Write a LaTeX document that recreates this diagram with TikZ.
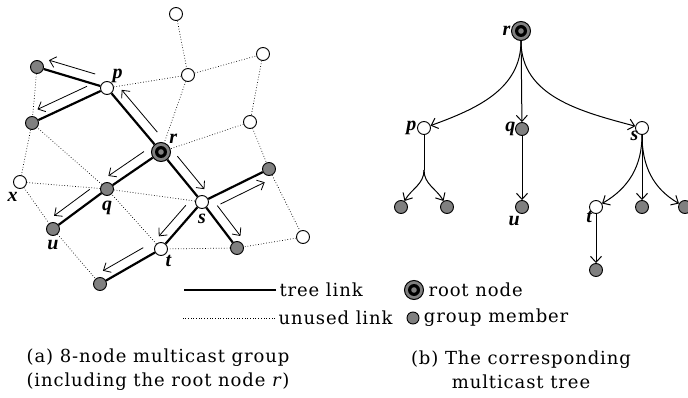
\documentclass[tikz,border=0pt]{standalone}
\usepackage{fontspec}
\setmainfont{DejaVu Serif}[LetterSpace=5]
\newfontfamily\labelfont{Liberation Serif}
\usetikzlibrary{arrows.meta,calc,positioning}
\definecolor{memberGray}{RGB}{128,128,128}

\begin{document}
\begin{tikzpicture}[
        x=1pt, y=1pt,
        plain/.style={circle, draw, fill=white, line width=0.9pt, minimum size=13pt, inner sep=0pt},
        member/.style={plain, fill=memberGray},
        root/.style={circle, draw, line width=1pt, fill=memberGray, minimum size=19pt, inner sep=0pt,
            path picture={\fill[black] (path picture bounding box.center) circle (6pt);
                          \fill[memberGray] (path picture bounding box.center) circle (2.8pt);}},
        tree/.style={line width=2.2pt},
        unused/.style={dotted, line width=0.7pt},
        flow/.style={-{Straight Barb[length=6pt,width=11pt]}, line width=0.8pt},
        down/.style={-{Straight Barb[length=6pt,width=11pt]}, line width=1pt},
        lbl/.style={font=\fontsize{20}{20}\labelfont\bfseries\itshape, inner sep=0.5pt},
        txt/.style={font=\fontsize{18}{24}\selectfont, align=center}
    ]
        \useasboundingbox (0,0) rectangle (688,397);

        % (a) multicast group
        \node[plain] (n1) at (176,383) {};
        \node[plain] (n2) at (263,343) {};
        \node[plain] (n3) at (188,322) {};
        \node[plain, label={[lbl]above right:p}] (p) at (107,309) {};
        \node[member] (pa) at (37,330) {};
        \node[member] (pb) at (32,274) {};
        \node[plain] (n4) at (250,275) {};
        \node[root, label={[lbl, label distance=1pt]above right:r}] (r) at (161,245) {};
        \node[member] (sa) at (269,228) {};
        \node[plain, label={[lbl, label distance=3pt]-100:x}] (x) at (20,215) {};
        \node[member, label={[lbl, label distance=4pt]below:q}] (q) at (107,208) {};
        \node[plain, label={[lbl, label distance=4pt]below:s}] (s) at (202,195) {};
        \node[member, label={[lbl, label distance=4pt]below:u}] (u) at (53,168) {};
        \node[plain] (n5) at (303,160) {};
        \node[plain, label={[lbl, label distance=0pt]-55:t}] (t) at (161,148) {};
        \node[member] (sb) at (237,149) {};
        \node[member] (ta) at (100,113) {};

        % unused links
        \draw[unused] (n1) -- (n3);
        \draw[unused] (n3) -- (n2);
        \draw[unused] (n3) -- (p);
        \draw[unused] (n3) -- (r);
        \draw[unused] (n2) -- (n4);
        \draw[unused] (n4) -- (r);
        \draw[unused] (n4) -- (sa);
        \draw[unused] (sa) -- (n5);
        \draw[unused] (n5) -- (sb);
        \draw[unused] (sb) -- (t);
        \draw[unused] (t) -- (q);
        \draw[unused] (q) -- (s);
        \draw[unused] (q) -- (x);
        \draw[unused] (q) -- (pb);
        \draw[unused] (pa) -- (pb);
        \draw[unused] (pb) -- (x);
        \draw[unused] (x) -- (u);
        \draw[unused] (u) -- (ta);

        % tree links
        \draw[tree] (r) -- (p);
        \draw[tree] (p) -- (pa);
        \draw[tree] (p) -- (pb);
        \draw[tree] (r) -- (q);
        \draw[tree] (q) -- (u);
        \draw[tree] (r) -- (s);
        \draw[tree] (s) -- (sa);
        \draw[tree] (s) -- (sb);
        \draw[tree] (s) -- (t);
        \draw[tree] (t) -- (ta);

        % packet flow along the tree
        \foreach \a/\b/\side in {r/p/-90, p/pa/-90, p/pb/-90, r/q/-90, q/u/-90,
                                 r/s/90, s/sa/-90, s/sb/90, s/t/-90, t/ta/-90}
            \draw[flow] ($(\a)!0.21!(\b)!10pt!\side:(\b)$) -- ($(\a)!0.87!(\b)!10pt!\side:(\b)$);

        % (b) multicast tree
        \node[root, label={[lbl]left:r}] (mr) at (521,366) {};
        \node[plain, label={[lbl]left:p}] (mp) at (424,269) {};
        \node[member, label={[lbl, label distance=-1pt]left:q}] (mq) at (522,268) {};
        \node[plain, label={[lbl, label distance=-3pt]below left:s}] (ms) at (642,269) {};
        \coordinate (mfork) at (424,227);
        \node[member] (mpa) at (401,190) {};
        \node[member] (mpb) at (447,190) {};
        \node[member, label={[lbl, label distance=2pt]-100:u}] (mu) at (522,190) {};
        \node[plain, label={[lbl, label distance=-2pt]below left:t}] (mt) at (596,190) {};
        \node[member] (msb) at (642,190) {};
        \node[member] (msc) at (685,190) {};
        \node[member] (mta) at (596,127) {};

        \draw[down] (mr) to[out=-90, in=20] (mp);
        \draw[down] (mr) -- (mq);
        \draw[down] (mr) to[out=-90, in=165] (ms);
        \draw[line width=1pt] (mp) -- (mfork);
        \draw[down] (mfork) to[out=-90, in=60] (mpa);
        \draw[down] (mfork) to[out=-90, in=120] (mpb);
        \draw[down] (mq) -- (mu);
        \draw[down] (ms) to[out=-90, in=30] (mt);
        \draw[down] (ms) -- (msb);
        \draw[down] (ms) to[out=-90, in=150] (msc);
        \draw[down] (mt) -- (mta);

        % legend
        \node[txt, anchor=west] (ltree) at (276,107) {tree link};
        \draw[tree] (ltree.west) -- ++(-92,0);
        \node[txt, anchor=west] (lunused) at (275,79) {unused link};
        \draw[unused] (lunused.west) -- ++(-92,0);
        \node[root] (lroot) at (414,107) {};
        \node[txt, anchor=west, right=1pt of lroot] (lroottext) {root node};
        \node[member, minimum size=12pt] (lmember) at (413,79) {};
        \node[txt, anchor=west, right=1pt of lmember] (lmembertext) {group member};

        % captions
        \node[txt] (capa) at (158,27) {(a) 8-node multicast group\\(including the root node \textit{r})};
        \node[txt] (capb) at (521,27) {(b) The corresponding\\multicast tree};
    \end{tikzpicture}
\end{document}
